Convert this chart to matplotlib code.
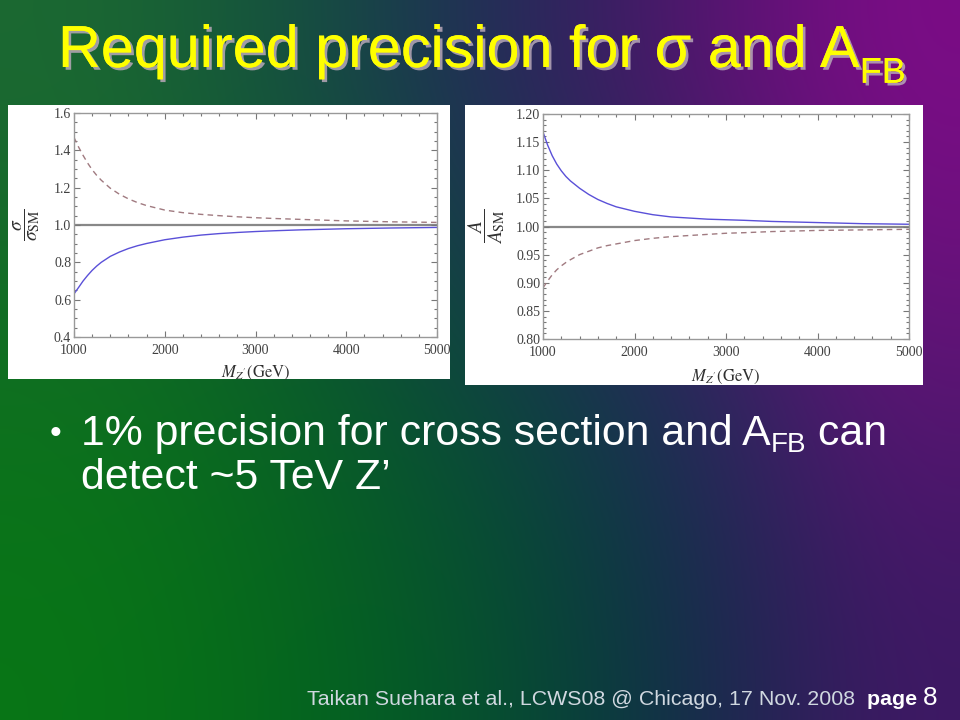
import numpy as np
import matplotlib
matplotlib.use("Agg")
import matplotlib.pyplot as plt
import matplotlib.patheffects as pe
from matplotlib.ticker import MultipleLocator

plt.rcParams['mathtext.fontset'] = 'stix'

# ---------------- data ----------------
mz = [1000, 1050, 1100, 1150, 1200, 1250, 1300, 1400, 1500, 1600, 1700, 1800,
      2000, 2200, 2400, 2600, 2800, 3000, 3200, 3500, 4000, 4500, 5000]
sigma_dashed = [1.469, 1.418, 1.373, 1.332, 1.296, 1.266, 1.240, 1.197, 1.165, 1.140, 1.120, 1.104,
                1.080, 1.066, 1.057, 1.050, 1.044, 1.039, 1.035, 1.030, 1.022, 1.017, 1.014]
sigma_solid = [0.631, 0.665, 0.700, 0.730, 0.757, 0.780, 0.800, 0.832, 0.855, 0.874, 0.889, 0.901,
               0.921, 0.935, 0.946, 0.954, 0.960, 0.965, 0.969, 0.974, 0.980, 0.984, 0.987]
afb_solid = [1.168, 1.145, 1.126, 1.111, 1.099, 1.089, 1.081, 1.068, 1.057, 1.048, 1.041, 1.035,
             1.027, 1.021, 1.017, 1.015, 1.013, 1.012, 1.011, 1.009, 1.007, 1.005, 1.004]
afb_dashed = [0.891, 0.903, 0.914, 0.923, 0.930, 0.936, 0.941, 0.950, 0.956, 0.962, 0.966, 0.969,
              0.975, 0.979, 0.982, 0.984, 0.986, 0.988, 0.989, 0.991, 0.993, 0.994, 0.995]
x_ticks = [1000, 2000, 3000, 4000, 5000]
sigma_yticks = [0.4, 0.6, 0.8, 1.0, 1.2, 1.4, 1.6]
afb_yticks = [0.80, 0.85, 0.90, 0.95, 1.00, 1.05, 1.10, 1.15, 1.20]

W, H = 960, 720
fig = plt.figure(figsize=(9.6, 7.2), dpi=100)

# ---------------- background gradient ----------------
bg_cols = np.array([
    [[28, 105, 50], [20, 82, 62], [30, 45, 88], [75, 22, 105], [125, 12, 135]],
    [[15, 112, 32], [10, 96, 38], [10, 70, 62], [30, 45, 90], [95, 20, 118]],
    [[8, 118, 22], [5, 104, 28], [5, 82, 45], [12, 48, 70], [62, 24, 100]],
], dtype=float) / 255.0
bgax = fig.add_axes([0, 0, 1, 1], zorder=-10)
bgax.imshow(bg_cols, extent=[0, W, H, 0], interpolation='bicubic', aspect='auto')
bgax.set_xlim(0, W)
bgax.set_ylim(H, 0)
bgax.axis('off')


def fig_rect(x0, y0, x1, y1):
    return [x0 / W, 1 - y1 / H, (x1 - x0) / W, (y1 - y0) / H]


# white panels
for (x0, y0, x1, y1) in [(8, 105, 450, 379), (465, 105, 923, 385)]:
    p = fig.add_axes(fig_rect(x0, y0, x1, y1), zorder=-5)
    p.set_facecolor('white')
    p.set_xticks([])
    p.set_yticks([])
    for s in p.spines.values():
        s.set_visible(False)

serif = 'Liberation Serif'
blue = '#5a50d8'
brown = '#a07a80'
grey = '#888888'


def style_axes(ax, ymin, ymax, ymin_step, yticks, fmt):
    ax.set_xlim(1000, 5000)
    ax.set_ylim(ymin, ymax)
    ax.set_xticks(x_ticks)
    ax.set_yticks(yticks)
    ax.set_yticklabels([fmt.format(v) for v in yticks])
    ax.xaxis.set_minor_locator(MultipleLocator(200))
    ax.yaxis.set_minor_locator(MultipleLocator(ymin_step))
    ax.tick_params(which='both', direction='in', top=True, right=True,
                   color='#777777', width=0.8, labelsize=10, labelcolor='#404040')
    ax.tick_params(axis='y', pad=2)
    ax.tick_params(axis='x', pad=5)
    ax.tick_params(which='major', length=4)
    ax.tick_params(which='minor', length=2)
    for lab in ax.get_xticklabels() + ax.get_yticklabels():
        lab.set_family(serif)
    for s in ax.spines.values():
        s.set_color('#999999')
        s.set_linewidth(1.0)
    ax.set_facecolor('white')


# left plot
ax1 = fig.add_axes(fig_rect(74, 113, 437, 337), zorder=1)
ax1.axhline(1.0, color=grey, lw=1.6, zorder=1)
ax1.plot(mz, sigma_dashed, color=brown, lw=1.0, ls=(0, (4, 3)), zorder=2)
ax1.plot(mz, sigma_solid, color=blue, lw=1.0, zorder=2)
style_axes(ax1, 0.4, 1.6, 0.05, sigma_yticks, '{:.1f}')
ax1.set_ylabel(r'$\dfrac{\sigma}{\sigma_{\mathrm{SM}}}$', fontsize=14, color='#303030')
ax1.yaxis.set_label_coords(-0.13, 0.5)
ax1.yaxis.label.set_va('center')
ax1.set_xlabel(r"$M_{Z^{\prime}}\mathrm{(GeV)}$", fontsize=12, color='#303030')
ax1.xaxis.set_label_coords(0.5, -0.16)
ax1.xaxis.label.set_va('center')

# right plot
ax2 = fig.add_axes(fig_rect(543, 114, 909, 339), zorder=1)
ax2.axhline(1.0, color=grey, lw=1.6, zorder=1)
ax2.plot(mz, afb_solid, color=blue, lw=1.0, zorder=2)
ax2.plot(mz, afb_dashed, color=brown, lw=1.0, ls=(0, (4, 3)), zorder=2)
style_axes(ax2, 0.80, 1.20, 0.01, afb_yticks, '{:.2f}')
ax2.set_ylabel(r'$\dfrac{A}{A_{\mathrm{SM}}}$', fontsize=14, color='#303030')
ax2.yaxis.set_label_coords(-0.155, 0.5)
ax2.yaxis.label.set_va('center')
ax2.set_xlabel(r"$M_{Z^{\prime}}\mathrm{(GeV)}$", fontsize=12, color='#303030')
ax2.xaxis.set_label_coords(0.5, -0.17)
ax2.xaxis.label.set_va('center')

# ---------------- texts ----------------
renderer = fig.canvas.get_renderer()


def seq_text(pieces, x0, ybase, scale=1.0, **common):
    x = x0
    made = []
    for txt, size, dy, kw in pieces:
        opts = dict(common)
        opts.update(kw)
        t = fig.text(x / W, 1 - (ybase + dy * scale) / H, txt, fontsize=size * scale,
                     ha='left', va='baseline', **opts)
        made.append(t)
        bb = t.get_window_extent(renderer)
        x += bb.width
    return made, x


def fitted_text(pieces, x0, x1, ybase, **common):
    made, xe = seq_text(pieces, x0, ybase, 1.0, **common)
    f = (x1 - x0) / (xe - x0)
    for t in made:
        t.remove()
    made, xe = seq_text(pieces, x0, ybase, f, **common)
    return f


sans = ['Liberation Sans', 'DejaVu Sans']
shadow = [pe.withSimplePatchShadow(offset=(2, -2), shadow_rgbFace='#b8a8b8', alpha=0.85), pe.Normal()]
fitted_text([
    ('Required precision for σ and A', 38, 0, {}),
    ('FB', 23, 14, {}),
], 58, 905, 67, color='#ffff00', family=sans, path_effects=shadow)

fig.text(50 / W, 1 - 443 / H, '•', fontsize=24, color='white', family=sans, va='baseline')
f_body = fitted_text([
    ('1% precision for cross section and A', 26, 0, {}),
    ('FB', 17, 6, {}),
    (' can', 26, 0, {}),
], 81, 885, 445, color='white', family=sans)
fig.text(81 / W, 1 - 489 / H, 'detect ~5 TeV Z’', fontsize=26 * f_body, color='white',
         family=sans, va='baseline')

fitted_text([
    ('Taikan Suehara et al., LCWS08 @ Chicago, 17 Nov. 2008  ', 11, 0, {'color': '#d0d8e0'}),
    ('page ', 11, 0, {'color': 'white', 'weight': 'bold'}),
    ('8', 13.5, 0, {'color': 'white'}),
], 307, 936, 705, family=sans)

fig.savefig('out.png', dpi=100)
